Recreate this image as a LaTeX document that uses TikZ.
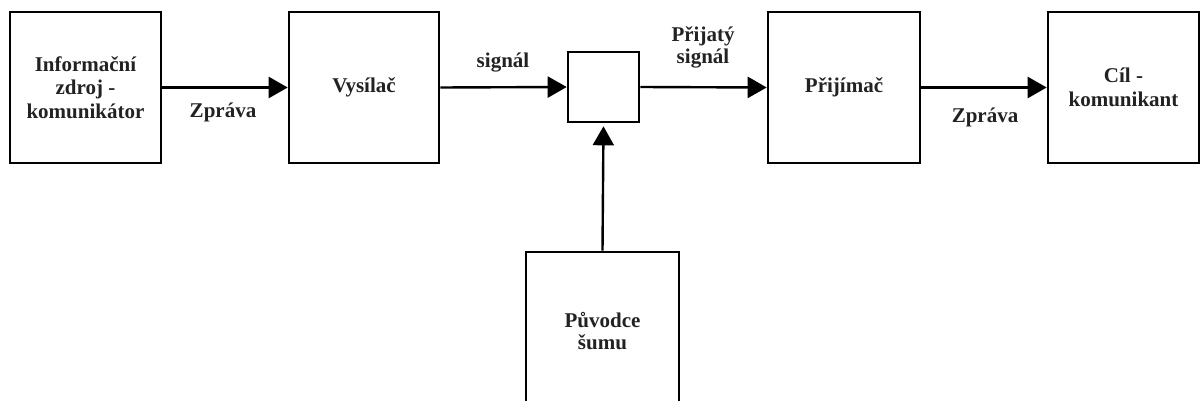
\documentclass[tikz,border=0pt]{standalone}
\usepackage{fontspec}
\setmainfont{Liberation Serif}
\usetikzlibrary{arrows.meta}
\definecolor{txt}{HTML}{222222}
\tikzset{
  blk/.style={draw=black, line width=2.6pt, minimum width=#1, minimum height=151pt, inner sep=0pt, align=center, text=txt, font=\fontsize{21}{23.5}\selectfont\bfseries},
  lbl/.style={inner sep=0pt, align=center, text=txt, font=\fontsize{21}{22}\selectfont\bfseries},
  conn/.style={line width=2.4pt, -{Triangle[length=19pt,width=21pt]}}
}
\begin{document}
\begin{tikzpicture}[x=1pt,y=-1pt]
\useasboundingbox (0,0) rectangle (1203,401);
\clip (0,0) rectangle (1203,401);
\node[blk=151pt] (src) at (85.5,87.5) {Informační\\zdroj -\\komunikátor};
\node[blk=150pt] (tx) at (364,87.5) {Vysílač};
\node[draw=black, line width=2.6pt, minimum width=71pt, minimum height=70pt, inner sep=0pt] (ch) at (603.5,87) {};
\node[blk=152pt] (rx) at (844,87.5) {Přijímač};
\node[blk=151pt] (dst) at (1123.5,87.5) {Cíl -\\komunikant};
\node[blk=153pt, minimum height=180pt, text height=0pt] (noise) at (602.5,342) {};
\node[lbl] (noisetext) at (602.5,331) {Původce\\šumu};
\draw[conn] (src.east) -- (tx.west);
\draw[conn] (tx.east) -- (ch.west);
\draw[conn] (ch.east) -- (rx.west);
\draw[conn] (rx.east) -- (dst.west);
\draw[conn, shorten >=3pt] (noise.north) -- (ch.south);
\node[lbl] (l1) at (223,112) {Zpráva};
\node[lbl] (l2) at (503,63) {signál};
\node[lbl] (l3) at (703,47) {Přijatý\\signál};
\node[lbl] (l4) at (985,117) {Zpráva};
\end{tikzpicture}
\end{document}
